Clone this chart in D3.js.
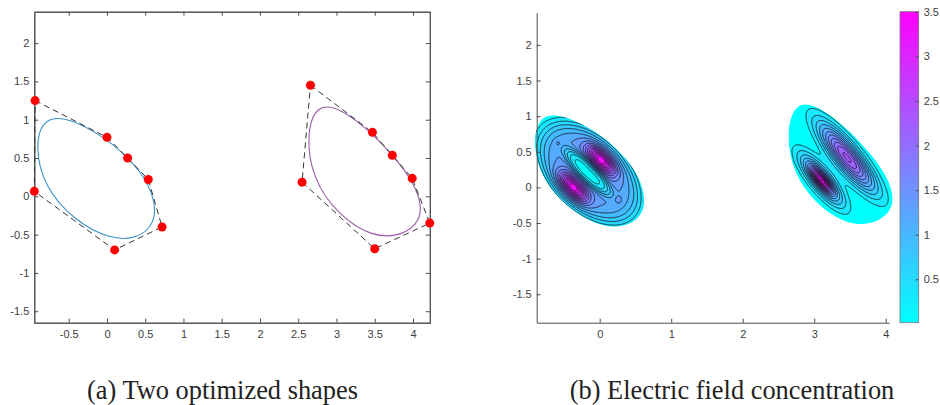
<!DOCTYPE html>
<html>
<head>
<meta charset="utf-8">
<script src="https://d3js.org/d3.v7.min.js"></script>
<style>
  body { margin: 0; background: #fff; }
  .tick line, .domain { stroke: #4d4d4d; }
</style>
</head>
<body>
<svg width="940" height="405"></svg>
<script>
// control points of the two optimized shapes
const shapeLeft = [[-0.94, 1.25], [0.0, 0.77], [0.27, 0.50], [0.54, 0.22], [0.72, -0.40], [0.10, -0.70], [-0.95, 0.065]];
const shapeRight = [[2.66, 1.45], [3.47, 0.835], [3.73, 0.535], [3.99, 0.235], [4.22, -0.35], [3.50, -0.685], [2.55, 0.185]];

// field features: [x, y, height, spread along, spread across, angle deg, sharpness]
const fieldLeft = [
  [-0.15, 0.20, 1.30, 0.62, 0.37, -45, 3],
  [-0.17, 0.22, -1.15, 0.31, 0.09, -45, 2],
  [-0.37, 0.00, 2.15, 0.17, 0.085, -45, 1],
  [0.02, 0.385, 2.15, 0.17, 0.085, -45, 1],
  [-0.58, 0.62, 0.16, 0.045, 0.035, -45, 1],
  [0.26, -0.175, 0.16, 0.045, 0.035, -45, 1]
];
const fieldRight = [
  [3.10, 0.11, 1.70, 0.31, 0.10, -51, 1],
  [3.10, 0.10, 1.80, 0.13, 0.05, -51, 1],
  [3.46, 0.42, 2.30, 0.41, 0.115, -51, 1]
];

const contourLevels = [0.25, 0.45, 0.65, 0.85, 1.05, 1.25, 1.45, 1.65, 1.85, 2.05, 2.25, 2.45, 2.65, 2.85, 3.05, 3.25, 3.45];

const xTicksA = [-0.5, 0, 0.5, 1, 1.5, 2, 2.5, 3, 3.5, 4];
const yTicksA = [-1.5, -1, -0.5, 0, 0.5, 1, 1.5, 2];
const xTicksB = [0, 1, 2, 3, 4];
const yTicksB = [-1.5, -1, -0.5, 0, 0.5, 1, 1.5, 2];
const colorTicks = [0.5, 1, 1.5, 2, 2.5, 3, 3.5];
const colorRange = [0.014, 3.5];

const svg = d3.select("svg");
const fmt = d => String(d);
const styleTicks = g => g.selectAll(".tick text")
  .style("font-family", "'Liberation Sans', Arial, Helvetica, sans-serif")
  .style("font-size", "11px").style("fill", "#404040");

// ---------- panel (a) ----------
const xA = d3.scaleLinear().domain([-0.95, 4.22]).range([34.3, 429.8]);
const yA = d3.scaleLinear().domain([-1.65, 2.41]).range([322.7, 11.7]);

const gA = svg.append("g");
gA.append("rect")
  .attr("x", xA.range()[0] + 0.5).attr("y", yA.range()[1] + 0.5)
  .attr("width", xA.range()[1] - xA.range()[0]).attr("height", yA.range()[0] - yA.range()[1])
  .attr("fill", "none").attr("stroke", "#4d4d4d");

gA.append("g").attr("transform", `translate(0,${yA.range()[0]})`)
  .call(d3.axisBottom(xA).tickValues(xTicksA).tickFormat(fmt).tickSize(-4).tickSizeOuter(0).tickPadding(8))
  .call(styleTicks);
gA.append("g").attr("transform", `translate(0,${yA.range()[1]})`)
  .call(d3.axisTop(xA).tickValues(xTicksA).tickFormat("").tickSize(-4).tickSizeOuter(0));
gA.append("g").attr("transform", `translate(${xA.range()[0]},0)`)
  .call(d3.axisLeft(yA).tickValues(yTicksA).tickFormat(fmt).tickSize(-4).tickSizeOuter(0).tickPadding(5))
  .call(styleTicks);
gA.append("g").attr("transform", `translate(${xA.range()[1]},0)`)
  .call(d3.axisRight(yA).tickValues(yTicksA).tickFormat("").tickSize(-4).tickSizeOuter(0));

const lineA = d3.line().x(d => xA(d[0])).y(d => yA(d[1]));

[[shapeLeft, "#3a92c8"], [shapeRight, "#9a5aa8"]].forEach(([pts, col]) => {
  gA.append("path")
    .attr("d", lineA.curve(d3.curveBasisClosed)(pts))
    .attr("fill", "none").attr("stroke", col).attr("stroke-width", 1.1);
  gA.append("path")
    .attr("d", lineA.curve(d3.curveLinearClosed)(pts))
    .attr("fill", "none").attr("stroke", "#333").attr("stroke-width", 1)
    .attr("stroke-dasharray", "6,4");
  gA.selectAll(null).data(pts).enter().append("circle")
    .attr("cx", d => xA(d[0])).attr("cy", d => yA(d[1])).attr("r", 4.5)
    .attr("fill", "#ff0000");
});

// ---------- panel (b) ----------
const xB = d3.scaleLinear().domain([-0.881, 4.05]).range([536.7, 889.3]);
const yB = d3.scaleLinear().domain([-1.899, 2.452]).range([322.7, 12.7]);
const cool = v => {
  const t = Math.max(0, Math.min(1, (v - colorRange[0]) / (colorRange[1] - colorRange[0])));
  return d3.rgb(255 * t, 255 * (1 - t), 255).toString();
};

function fieldAt(features, x, y) {
  let s = 0;
  for (const [cx, cy, h, su, sv, ang, p] of features) {
    const a = ang * Math.PI / 180;
    const dx = x - cx, dy = y - cy;
    const u = dx * Math.cos(a) + dy * Math.sin(a);
    const v = -dx * Math.sin(a) + dy * Math.cos(a);
    const q = ((u / su) ** 2 + (v / sv) ** 2) / 2;
    s += h * Math.exp(-Math.pow(q, p));
  }
  return s;
}

const lineB = d3.line().x(d => xB(d[0])).y(d => yB(d[1])).curve(d3.curveBasisClosed);
const defs = svg.append("defs");
const gB = svg.append("g");

[[shapeLeft, fieldLeft], [shapeRight, fieldRight]].forEach(([pts, feats], k) => {
  const x0 = Math.floor(d3.min(pts, d => xB(d[0]))) - 2;
  const x1 = Math.ceil(d3.max(pts, d => xB(d[0]))) + 2;
  const y0 = Math.floor(d3.min(pts, d => yB(d[1]))) - 2;
  const y1 = Math.ceil(d3.max(pts, d => yB(d[1]))) + 2;
  const res = 2;
  const w = (x1 - x0) * res, h = (y1 - y0) * res;
  const values = new Float64Array(w * h);
  for (let j = 0; j < h; j++) {
    for (let i = 0; i < w; i++) {
      values[j * w + i] = fieldAt(feats, xB.invert(x0 + (i + 0.5) / res), yB.invert(y0 + (j + 0.5) / res));
    }
  }
  const bands = d3.contours().size([w, h]).thresholds(contourLevels)(values);

  const id = "clip" + k;
  defs.append("clipPath").attr("id", id).append("path").attr("d", lineB(pts));
  const g = gB.append("g").attr("clip-path", `url(#${id})`);
  g.append("path").attr("d", lineB(pts)).attr("fill", cool(colorRange[0]));
  const gc = g.append("g").attr("transform", `translate(${x0},${y0}) scale(${1 / res})`);
  const path = d3.geoPath();
  gc.selectAll(".band").data(bands).enter().append("path")
    .attr("d", path).attr("fill", d => cool(d.value + 0.1)).attr("stroke", "none");
  gc.selectAll(".iso").data(bands).enter().append("path")
    .attr("d", path).attr("fill", "none").attr("stroke", "#111")
    .attr("stroke-width", 0.8 * res);
});

gB.append("g").attr("transform", `translate(0,${yB.range()[0]})`)
  .call(d3.axisBottom(xB).tickValues(xTicksB).tickFormat(fmt).tickSize(-4).tickSizeOuter(0).tickPadding(8))
  .call(styleTicks);
gB.append("g").attr("transform", `translate(${xB.range()[0]},0)`)
  .call(d3.axisLeft(yB).tickValues(yTicksB).tickFormat(fmt).tickSize(-4).tickSizeOuter(0).tickPadding(5))
  .call(styleTicks);

// colorbar
const cScale = d3.scaleLinear().domain(colorRange).range([322.7, 11.7]);
const grad = defs.append("linearGradient").attr("id", "coolGrad")
  .attr("x1", 0).attr("y1", 1).attr("x2", 0).attr("y2", 0);
grad.append("stop").attr("offset", 0).attr("stop-color", cool(colorRange[0]));
grad.append("stop").attr("offset", 1).attr("stop-color", cool(colorRange[1]));
const cbX = 900, cbW = 18.7;
svg.append("rect").attr("x", cbX).attr("y", cScale.range()[1])
  .attr("width", cbW).attr("height", cScale.range()[0] - cScale.range()[1])
  .attr("fill", "url(#coolGrad)").attr("stroke", "#777").attr("stroke-width", 0.8);
svg.append("g").attr("transform", `translate(${cbX + cbW},0)`)
  .call(d3.axisRight(cScale).tickValues(colorTicks).tickFormat(fmt).tickSize(-3).tickSizeOuter(0).tickPadding(5))
  .call(styleTicks)
  .call(g => g.select(".domain").remove());

// captions
const captions = [["(a) Two optimized shapes", 222.5], ["(b) Electric field concentration", 732]];
svg.selectAll(".caption").data(captions).enter().append("text")
  .attr("class", "caption")
  .attr("x", d => d[1]).attr("y", 399)
  .attr("text-anchor", "middle")
  .style("font-family", "'Liberation Serif', 'Times New Roman', Times, serif")
  .style("font-size", "26.4px").style("fill", "#222")
  .text(d => d[0]);
</script>
</body>
</html>
